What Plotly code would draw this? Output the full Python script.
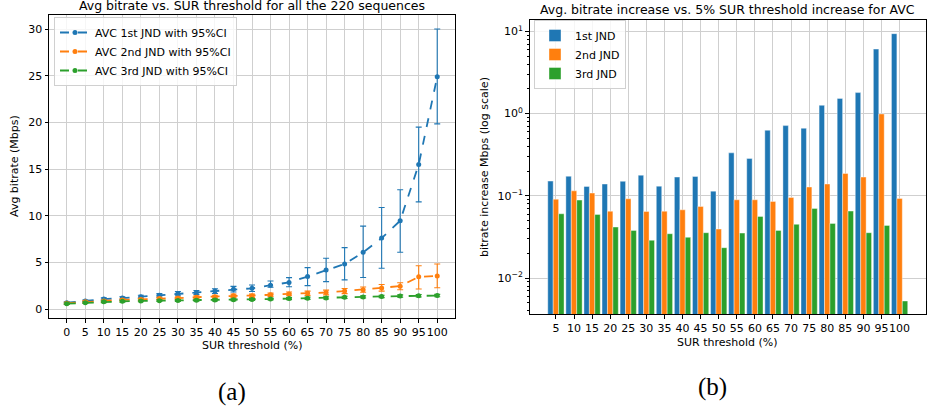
import plotly.graph_objects as go

# ---------------- data ----------------
sur_all = ["0", "5", "10", "15", "20", "25", "30", "35", "40", "45", "50",
           "55", "60", "65", "70", "75", "80", "85", "90", "95", "100"]

jnd1_mean = [0.70, 0.90, 1.10, 1.20, 1.35, 1.50, 1.70, 1.80, 1.95, 2.15, 2.25,
             2.58, 2.88, 3.50, 4.20, 4.85, 6.10, 7.62, 9.48, 15.50, 24.90]
jnd1_hi = [0.80, 1.00, 1.22, 1.35, 1.50, 1.68, 1.90, 2.02, 2.20, 2.45, 2.60,
           3.03, 3.39, 4.46, 5.46, 6.60, 8.90, 10.90, 12.80, 19.50, 30.00]
jnd1_lo = [0.60, 0.80, 0.98, 1.05, 1.20, 1.32, 1.50, 1.58, 1.70, 1.85, 1.90,
           2.36, 2.42, 2.53, 2.96, 3.15, 3.40, 4.40, 6.10, 11.50, 19.85]

jnd2_mean = [0.65, 0.80, 0.90, 1.00, 1.05, 1.15, 1.20, 1.30, 1.35, 1.45, 1.45,
             1.55, 1.65, 1.72, 1.80, 1.95, 2.10, 2.28, 2.48, 3.48, 3.56]
jnd2_hi = [0.75, 0.90, 1.00, 1.12, 1.17, 1.28, 1.33, 1.44, 1.50, 1.62, 1.62,
           1.73, 1.85, 1.95, 2.05, 2.22, 2.38, 2.65, 2.85, 4.67, 4.85]
jnd2_lo = [0.55, 0.70, 0.80, 0.88, 0.93, 1.02, 1.07, 1.16, 1.20, 1.28, 1.28,
           1.37, 1.45, 1.49, 1.55, 1.68, 1.82, 1.95, 2.10, 2.17, 2.30]

jnd3_mean = [0.60, 0.70, 0.80, 0.85, 0.90, 0.92, 0.95, 0.98, 1.00, 1.03, 1.05,
             1.10, 1.15, 1.18, 1.22, 1.28, 1.33, 1.38, 1.42, 1.45, 1.47]
jnd3_hi = [0.68, 0.78, 0.88, 0.94, 0.99, 1.01, 1.05, 1.08, 1.10, 1.13, 1.15,
           1.21, 1.26, 1.30, 1.34, 1.40, 1.45, 1.51, 1.55, 1.58, 1.60]
jnd3_lo = [0.52, 0.62, 0.72, 0.76, 0.81, 0.83, 0.85, 0.88, 0.90, 0.93, 0.95,
           0.99, 1.04, 1.06, 1.10, 1.16, 1.21, 1.25, 1.29, 1.32, 1.34]

sur_inc = ["5", "10", "15", "20", "25", "30", "35", "40", "45", "50",
           "55", "60", "65", "70", "75", "80", "85", "90", "95", "100"]
inc1 = [0.151, 0.173, 0.130, 0.139, 0.150, 0.178, 0.131, 0.169, 0.172, 0.114,
        0.333, 0.284, 0.627, 0.714, 0.663, 1.26, 1.53, 1.80, 6.08, 9.37]
inc2 = [0.091, 0.115, 0.108, 0.065, 0.092, 0.0646, 0.065, 0.0676, 0.0743, 0.0394,
        0.0895, 0.0895, 0.0855, 0.0955, 0.128, 0.139, 0.187, 0.169, 0.99, 0.093]
inc3 = [0.0605, 0.0887, 0.0594, 0.0417, 0.038, 0.0288, 0.0346, 0.0313, 0.0356, 0.0234,
        0.0352, 0.0562, 0.038, 0.045, 0.0703, 0.0462, 0.0652, 0.0356, 0.0437, 0.00526]

# ---------------- styling ----------------
W, H = 930, 413
C1, C2, C3 = "#1f77b4", "#ff7f0e", "#2ca02c"
FONT = "DejaVu Sans"
GRID = "#cfcfcf"


def px(x):
    return x / W


def py(y):
    return 1 - y / H


fig = go.Figure()

# ----- left: lines with CI error bars -----
xa = list(range(len(sur_all)))
for name, mean, hi, lo, col in [
    ("AVC 1st JND with 95%CI", jnd1_mean, jnd1_hi, jnd1_lo, C1),
    ("AVC 2nd JND with 95%CI", jnd2_mean, jnd2_hi, jnd2_lo, C2),
    ("AVC 3rd JND with 95%CI", jnd3_mean, jnd3_hi, jnd3_lo, C3),
]:
    fig.add_trace(go.Scatter(
        x=xa, y=mean, mode="lines+markers", name=name,
        line=dict(color=col, width=1.8, dash="dash"),
        marker=dict(color=col, size=5),
        error_y=dict(type="data", symmetric=False,
                     array=[h - m for h, m in zip(hi, mean)],
                     arrayminus=[m - l for m, l in zip(mean, lo)],
                     color=col, thickness=1.1, width=3),
        xaxis="x", yaxis="y", legend="legend",
    ))

# ----- right: grouped bars on log scale -----
xb = list(range(len(sur_inc)))
for name, vals, col, off in [
    ("1st JND", inc1, C1, -0.45),
    ("2nd JND", inc2, C2, -0.15),
    ("3rd JND", inc3, C3, 0.15),
]:
    fig.add_trace(go.Bar(
        x=xb, y=vals, name=name, width=0.3, offset=off,
        marker=dict(color=col, line=dict(color="white", width=0.4)),
        xaxis="x2", yaxis="y2", legend="legend2",
    ))

axis_common = dict(
    showline=True, linecolor="black", linewidth=1, mirror=True,
    ticks="outside", ticklen=3.5, tickwidth=1, tickcolor="black",
    showgrid=True, gridcolor=GRID, gridwidth=1, zeroline=False,
    tickangle=0, automargin=False,
    tickfont=dict(family=FONT, size=11, color="black"),
)

minor_vals = [k * 10 ** e for e in range(-3, 2) for k in range(2, 10)]

fig.update_layout(
    width=W, height=H,
    margin=dict(l=0, r=0, t=0, b=0, autoexpand=False),
    paper_bgcolor="white", plot_bgcolor="white",
    font=dict(family=FONT, color="black"),
    barmode="overlay",
    xaxis=dict(domain=[px(49), px(455)], anchor="y",
               range=[-0.96, 20.96], tickmode="array",
               tickvals=xa, ticktext=sur_all, **axis_common),
    yaxis=dict(domain=[py(318), py(15)], anchor="x",
               range=[-0.93, 31.5], tickmode="array",
               tickvals=[0, 5, 10, 15, 20, 25, 30], **axis_common),
    xaxis2=dict(domain=[px(529.5), px(926)], anchor="y2",
                range=[-1.46, 20.46], tickmode="array",
                tickvals=xb, ticktext=sur_inc, **axis_common),
    yaxis2=dict(domain=[py(314), py(20)], anchor="x2",
                type="log", range=[-2.437, 1.138], tickmode="array",
                tickvals=[0.01, 0.1, 1, 10],
                ticktext=["10<sup>\u22122</sup>", "10<sup>\u22121</sup>",
                          "10<sup>0</sup>", "10<sup>1</sup>"],
                minor=dict(ticks="outside", ticklen=2, tickcolor="black",
                           tickwidth=0.8, showgrid=False,
                           tickmode="array", tickvals=minor_vals),
                **axis_common),
    legend=dict(x=px(54), y=py(17), xanchor="left", yanchor="top",
                bgcolor="rgba(255,255,255,0.8)", bordercolor="#d0d0d0",
                borderwidth=1, font=dict(family=FONT, size=11),
                tracegroupgap=0, itemwidth=30),
    legend2=dict(x=px(534), y=py(20), xanchor="left", yanchor="top",
                 bgcolor="rgba(255,255,255,0.8)", bordercolor="#d0d0d0",
                 borderwidth=1, font=dict(family=FONT, size=11),
                 tracegroupgap=0, itemwidth=30),
    showlegend=True,
)

ann = [
    dict(text="Avg bitrate vs. SUR threshold for all the 220 sequences",
         x=px(252), y=py(5), font=dict(size=12.5)),
    dict(text="Avg. bitrate increase vs. 5% SUR threshold increase for AVC",
         x=px(727), y=py(9), font=dict(size=12.5)),
    dict(text="SUR threshold (%)", x=px(252), y=py(345), font=dict(size=11)),
    dict(text="SUR threshold (%)", x=px(727), y=py(342), font=dict(size=11)),
    dict(text="Avg bitrate (Mbps)", x=px(14), y=py(166), textangle=-90,
         font=dict(size=11)),
    dict(text="bitrate increase Mbps (log scale)", x=px(484), y=py(167),
         textangle=-90, font=dict(size=11)),
    dict(text="(a)", x=px(232), y=py(392),
         font=dict(size=25, family="Liberation Serif")),
    dict(text="(b)", x=px(712), y=py(387),
         font=dict(size=25, family="Liberation Serif")),
]
for a in ann:
    f = dict(family=FONT, color="black")
    f.update(a.pop("font"))
    fig.add_annotation(xref="paper", yref="paper", showarrow=False,
                       xanchor="center", yanchor="middle", font=f, **a)

fig.write_html(
    "out.html",
    config={"displayModeBar": False},
    post_script="document.body.style.margin='0px';document.body.style.overflow='hidden';",
)
